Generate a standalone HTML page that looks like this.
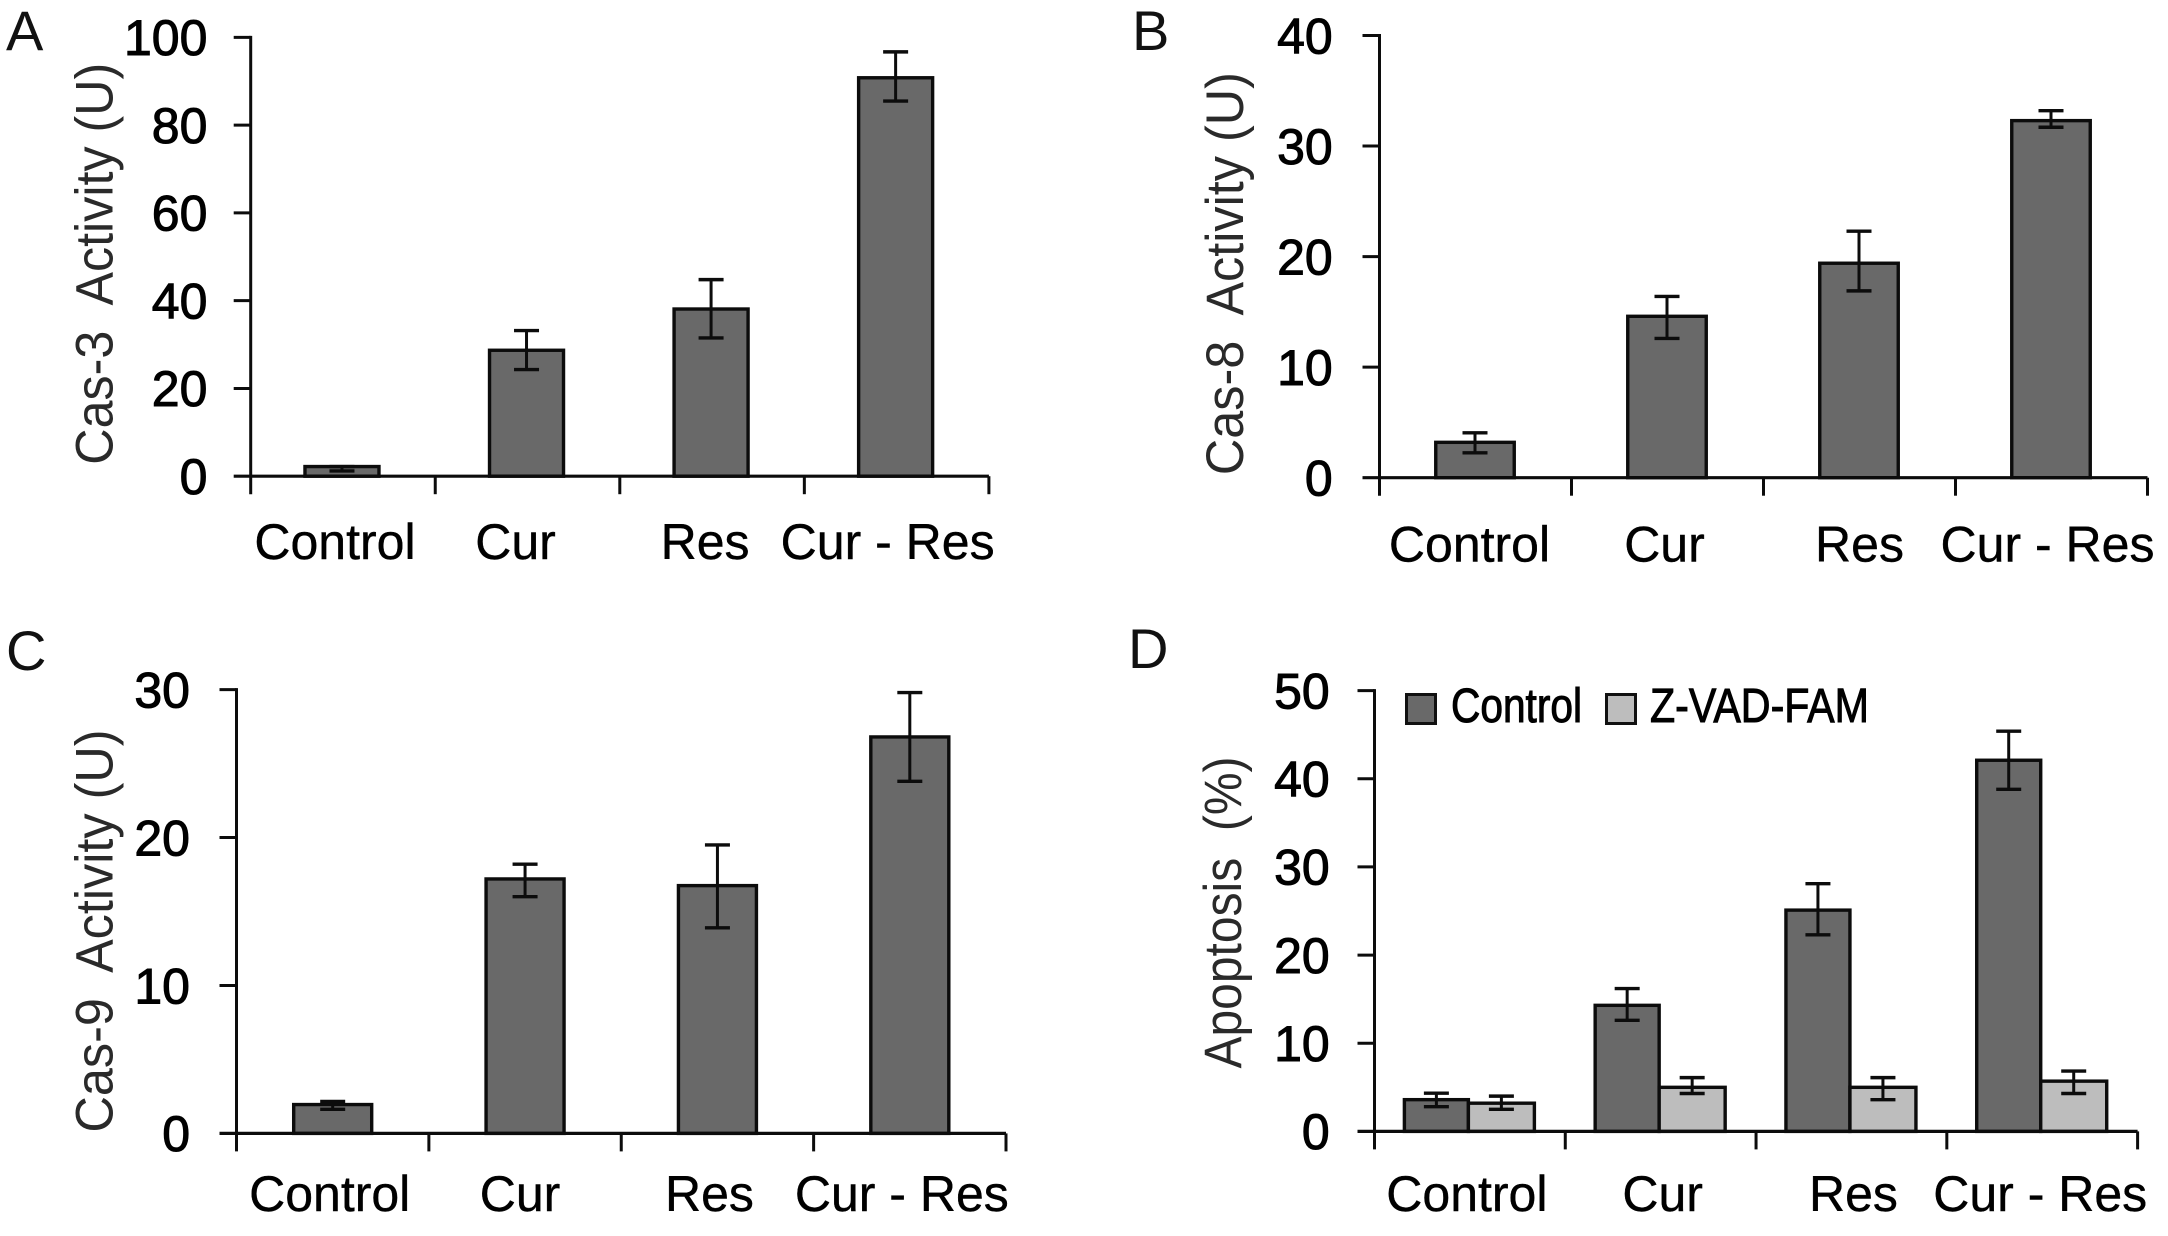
<!DOCTYPE html>
<html lang="en">
<head>
<meta charset="utf-8">
<title>Caspase activity and apoptosis</title>
<style>
html,body{margin:0;padding:0;background:#fff;}
body{width:2168px;height:1236px;overflow:hidden;}
svg{display:block;font-family:"Liberation Sans",Arial,sans-serif;}
text{white-space:pre;}
.panel-letter{font-size:56px;fill:#111;}
.y-title{font-size:53px;fill:#2a2a2a;text-anchor:middle;}
.tick-label{font-size:50px;fill:#000;stroke:#000;stroke-width:1px;text-anchor:end;}
.cat-label{font-size:50px;fill:#000;stroke:#000;stroke-width:.4px;text-anchor:middle;}
.legend-label{font-size:48px;fill:#000;stroke:#000;stroke-width:1px;}
</style>
</head>
<body>
<svg id="figure" xmlns="http://www.w3.org/2000/svg" width="2168" height="1236" viewBox="0 0 2168 1236">
  <rect x="0" y="0" width="2168" height="1236" fill="#fff"/>

  <text class="panel-letter" x="6" y="50">A</text>
  <text class="panel-letter" x="1132" y="50">B</text>
  <text class="panel-letter" x="6" y="670">C</text>
  <text class="panel-letter" x="1128" y="668">D</text>

  <text class="y-title" transform="translate(112.5,263.7) rotate(-90)" textLength="402" lengthAdjust="spacingAndGlyphs">Cas-3  Activity (U)</text>
  <text class="y-title" transform="translate(1243,273.6) rotate(-90)" textLength="403" lengthAdjust="spacingAndGlyphs">Cas-8  Activity (U)</text>
  <text class="y-title" transform="translate(112.5,931) rotate(-90)" textLength="403" lengthAdjust="spacingAndGlyphs">Cas-9  Activity (U)</text>
  <text class="y-title" transform="translate(1241,912.5) rotate(-90)" textLength="312" lengthAdjust="spacingAndGlyphs">Apoptosis  (%)</text>

  <g id="charts"></g>

  <g>
    <rect x="1406.5" y="694.5" width="29" height="29" fill="#696969" stroke="#111" stroke-width="3"/>
    <text class="legend-label" x="1451" y="722" textLength="131" lengthAdjust="spacingAndGlyphs">Control</text>
    <rect x="1606.5" y="694.5" width="29" height="29" fill="#bdbdbd" stroke="#111" stroke-width="3"/>
    <text class="legend-label" x="1650" y="722" textLength="219" lengthAdjust="spacingAndGlyphs">Z-VAD-FAM</text>
  </g>
</svg>

<script>
const categories = ["Control", "Cur", "Res", "Cur - Res"];

const cas3Ticks = [0, 20, 40, 60, 80, 100];
const cas3Values = [2.2, 28.7, 38.1, 90.8];
const cas3ErrHigh = [2.2, 33.2, 44.8, 96.7];
const cas3ErrLow = [1.2, 24.3, 31.5, 85.5];

const cas8Ticks = [0, 10, 20, 30, 40];
const cas8Values = [3.2, 14.6, 19.4, 32.3];
const cas8ErrHigh = [4.06, 16.4, 22.3, 33.2];
const cas8ErrLow = [2.25, 12.6, 16.9, 31.7];

const cas9Ticks = [0, 10, 20, 30];
const cas9Values = [1.95, 17.2, 16.75, 26.8];
const cas9ErrHigh = [2.16, 18.2, 19.5, 29.8];
const cas9ErrLow = [1.63, 16, 13.9, 23.8];

const apoptosisTicks = [0, 10, 20, 30, 40, 50];
const apoptosisControl = [3.6, 14.3, 25.1, 42.1];
const apoptosisControlHigh = [4.34, 16.2, 28.1, 45.4];
const apoptosisControlLow = [2.8, 12.6, 22.3, 38.8];
const apoptosisZvad = [3.2, 5.0, 5.0, 5.7];
const apoptosisZvadHigh = [4.0, 6.1, 6.1, 6.84];
const apoptosisZvadLow = [2.5, 4.3, 3.6, 4.3];

const DARK = "#696969";
const LIGHT = "#bdbdbd";
const INK = "#0c0c0c";

const panels = [
  { key: "a", left: 250.7, right: 988.9, yTop: 37.4, yZero: 476.2, tickLabelX: 207.4, catBaseline: 559,
    ticks: cas3Ticks, barWidths: [74], groupShift: -1, labelShift: [-8, -12, -7, -9],
    series: [{ name: "cas-3", fill: DARK, values: cas3Values, high: cas3ErrHigh, low: cas3ErrLow }] },
  { key: "b", left: 1379.5, right: 2147.5, yTop: 35.5, yZero: 477.7, tickLabelX: 1332.7, catBaseline: 561.6,
    ticks: cas8Ticks, barWidths: [78.5], groupShift: -0.5, labelShift: [-6, -3, 0, -4],
    series: [{ name: "cas-8", fill: DARK, values: cas8Values, high: cas8ErrHigh, low: cas8ErrLow }] },
  { key: "c", left: 236.5, right: 1006, yTop: 689.6, yZero: 1133.4, tickLabelX: 190, catBaseline: 1211,
    ticks: cas9Ticks, barWidths: [78], groupShift: 0, labelShift: [-3, -5, -8, -8],
    series: [{ name: "cas-9", fill: DARK, values: cas9Values, high: cas9ErrHigh, low: cas9ErrLow }] },
  { key: "d", left: 1374.5, right: 2137.6, yTop: 690.6, yZero: 1131.4, tickLabelX: 1329.7, catBaseline: 1211,
    ticks: apoptosisTicks, barWidths: [64, 66], groupShift: -0.5, labelShift: [-3, 2, 2, -2],
    series: [
      { name: "control", fill: DARK, values: apoptosisControl, high: apoptosisControlHigh, low: apoptosisControlLow },
      { name: "z-vad-fam", fill: LIGHT, values: apoptosisZvad, high: apoptosisZvadHigh, low: apoptosisZvadLow }
    ] }
];

const NS = "http://www.w3.org/2000/svg";
const root = document.getElementById("charts");

function make(parent, tag, attrs, text) {
  const node = document.createElementNS(NS, tag);
  for (const k in attrs) node.setAttribute(k, attrs[k]);
  if (text !== undefined) node.textContent = text;
  parent.appendChild(node);
  return node;
}

function segment(parent, x1, y1, x2, y2, width) {
  return make(parent, "line", { x1: x1, y1: y1, x2: x2, y2: y2, stroke: INK, "stroke-width": width });
}

panels.forEach(function (p) {
  const maxTick = p.ticks[p.ticks.length - 1];
  const yScale = function (v) { return p.yZero - (v / maxTick) * (p.yZero - p.yTop); };
  const step = (p.right - p.left) / categories.length;
  const xCenter = function (i) { return p.left + (i + 0.5) * step; };
  const groupWidth = p.barWidths.reduce(function (a, b) { return a + b; }, 0);

  const group = make(root, "g", {});
  
  

  p.series.forEach(function (s, si) {
    const offset = p.barWidths.slice(0, si).reduce(function (a, b) { return a + b; }, 0);
    s.values.forEach(function (v, i) {
      const x = xCenter(i) + p.groupShift - groupWidth / 2 + offset;
      const w = p.barWidths[si];
      const bar = make(group, "rect", {
        x: x, y: yScale(v), width: w, height: p.yZero - yScale(v),
        fill: s.fill, stroke: INK, "stroke-width": 3.4
      });
      
      
    });
  });

  p.series.forEach(function (s, si) {
    const offset = p.barWidths.slice(0, si).reduce(function (a, b) { return a + b; }, 0);
    s.values.forEach(function (v, i) {
      const w = p.barWidths[si];
      const cx = xCenter(i) + p.groupShift - groupWidth / 2 + offset + w / 2;
      const eb = make(group, "g", {});
      
      
      const yHi = yScale(s.high[i]);
      const yLo = yScale(s.low[i]);
      segment(eb, cx, yHi, cx, yLo, 3);
      segment(eb, cx - 12.5, yHi, cx + 12.5, yHi, 3.4);
      segment(eb, cx - 12.5, yLo, cx + 12.5, yLo, 3.4);
    });
  });

  const axes = make(group, "g", {});
  
  
  segment(axes, p.left, p.yTop - 1.5, p.left, p.yZero + 18, 3);
  segment(axes, p.left - 17, p.yZero, p.right, p.yZero, 3.2);

  p.ticks.forEach(function (t) {
    const y = yScale(t);
    if (t !== 0) segment(axes, p.left - 17, y, p.left, y, 3);
    const label = make(axes, "text", { class: "tick-label", x: p.tickLabelX, y: y + 17.8 }, String(t));
    
    
  });

  for (let i = 1; i <= categories.length; i++) {
    const x = p.left + i * step;
    segment(axes, x, p.yZero, x, p.yZero + 18, 3);
  }

  categories.forEach(function (c, i) {
    const label = make(axes, "text", {
      class: "cat-label", x: xCenter(i) + p.labelShift[i], y: p.catBaseline
    }, c);
    
    
  });
});
</script>
</body>
</html>
